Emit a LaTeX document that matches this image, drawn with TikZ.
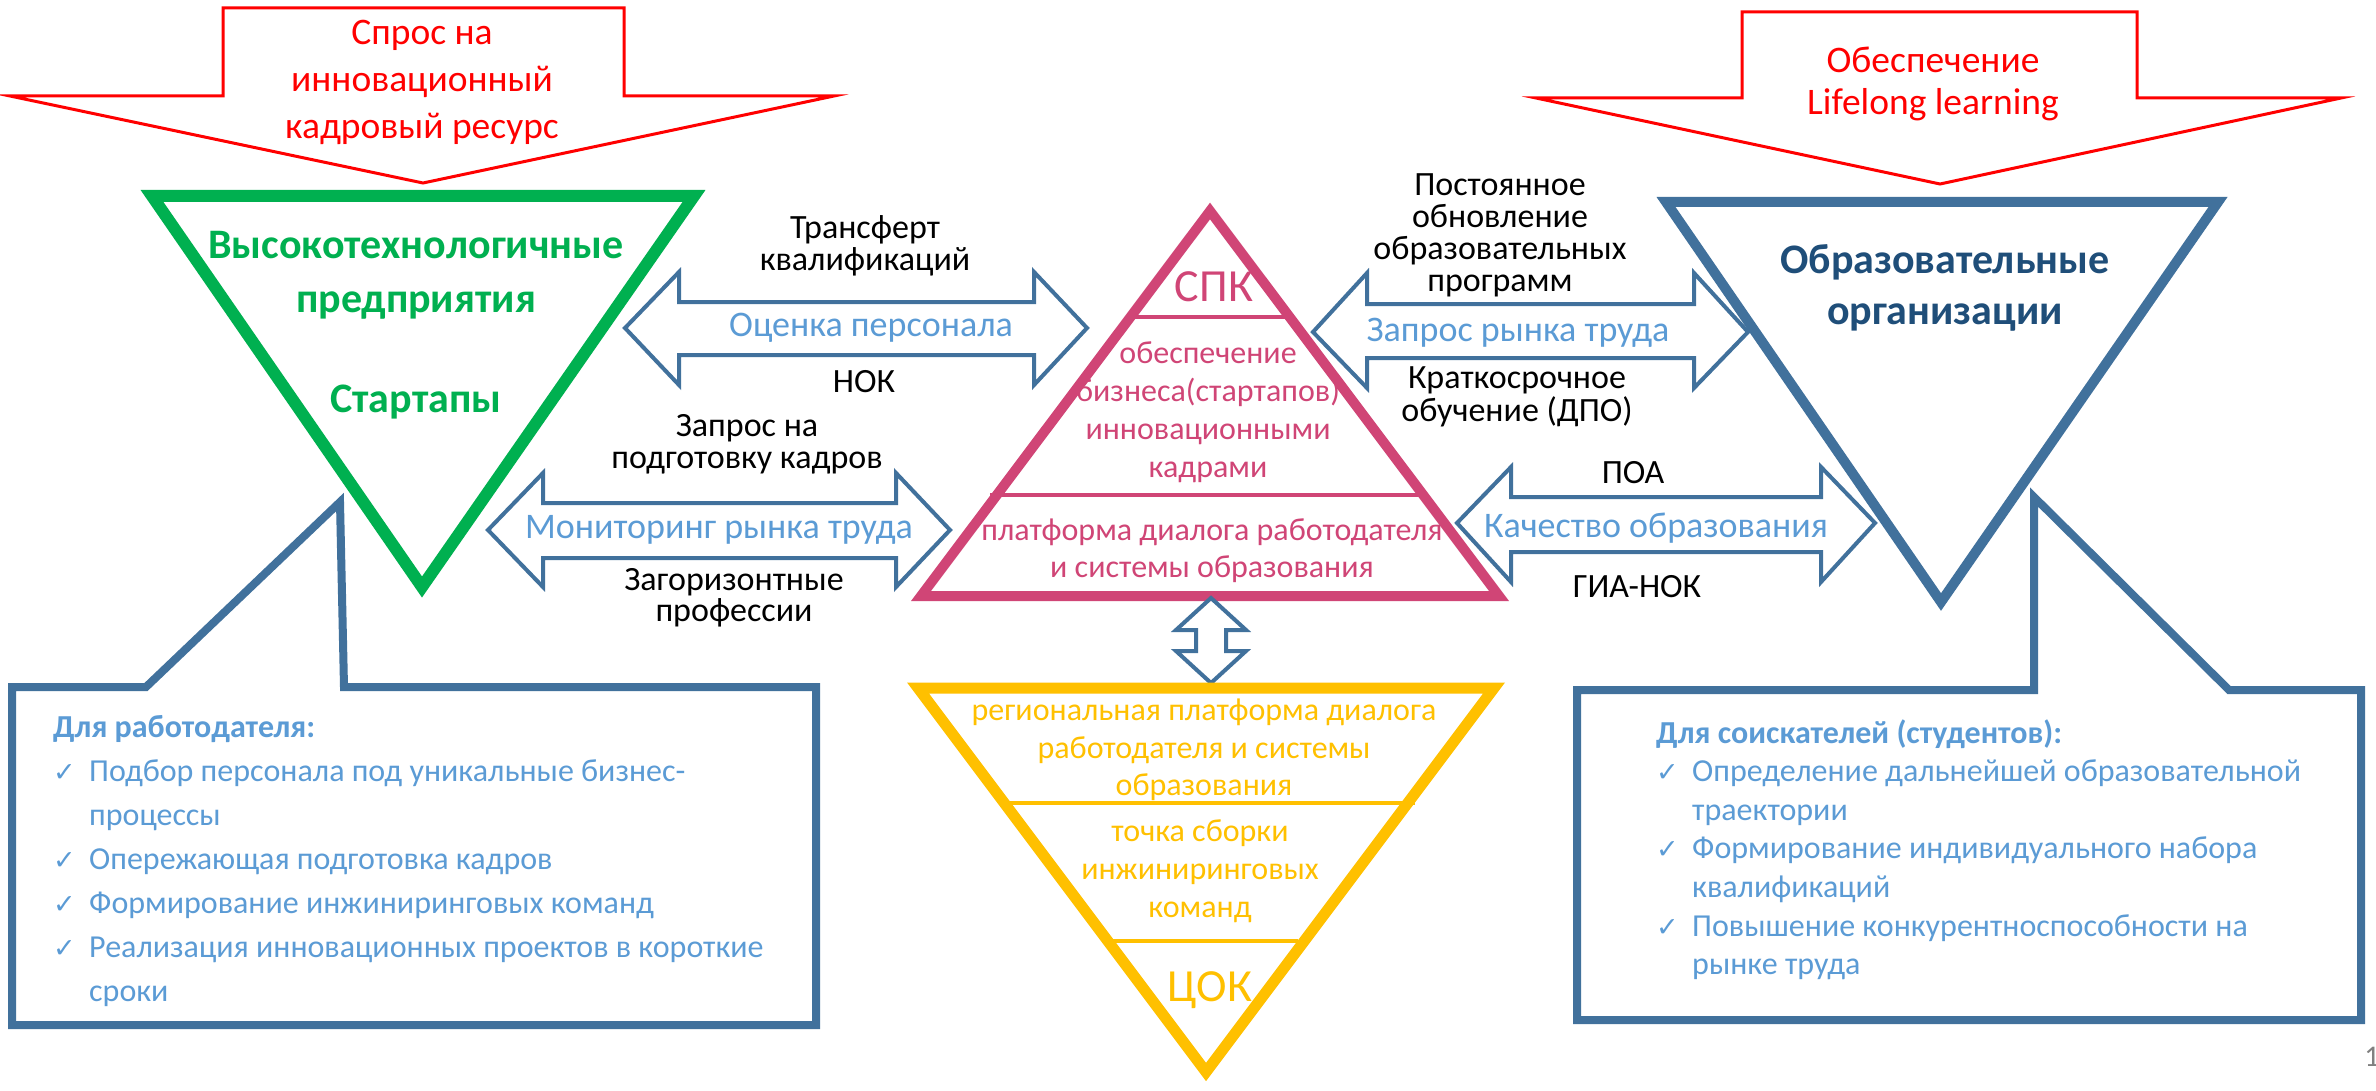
\documentclass[tikz,border=0pt]{standalone}
\usepackage{fontspec}
\setmainfont{Carlito}
\newfontfamily\symfont{DejaVu Sans}
\usepackage{xcolor}
\usepackage{tikz}
\usetikzlibrary{positioning}

\definecolor{bizgreen}{RGB}{0,176,80}
\definecolor{spkpink}{RGB}{208,69,118}
\definecolor{cokyellow}{RGB}{255,192,0}
\definecolor{edublue}{RGB}{65,113,156}
\definecolor{edudark}{RGB}{31,78,121}
\definecolor{lightblue}{RGB}{91,155,213}

\newcommand{\chk}{\makebox[36pt][l]{\symfont\fontsize{27}{27}\selectfont ✓}}

\tikzset{
  redtext/.style={text=red, align=center, font=\fontsize{37.5}{47}\selectfont},
  blacktext/.style={align=center, font=\fontsize{34}{32}\selectfont},
  arrowtext/.style={text=lightblue, font=\fontsize{36}{40}\selectfont},
  spktext/.style={text=spkpink, align=center, font=\fontsize{32}{38}\selectfont},
  coktext/.style={text=cokyellow, align=center, font=\fontsize{32}{38}\selectfont},
  abbrtext/.style={font=\fontsize{46}{50}\selectfont},
  headtext/.style={align=center, font=\bfseries\fontsize{42}{54}\selectfont},
  listtext/.style={anchor=base west, inner sep=0pt, text=lightblue},
  downarrow/.style={draw=red, line width=3pt},
  blockarrow/.style={draw=edublue, line width=4pt},
  callout/.style={draw=edublue, line width=8pt}
}

\begin{document}
\begin{tikzpicture}[x=1pt, y=-1pt]
\path[use as bounding box, fill=white] (0,0) rectangle (2376,1091);

% Demand arrows from above
\draw[downarrow] (223,8) -- (624,8) -- (624,96) -- (834,96) -- (423,183) -- (10,96) -- (223,96) -- cycle;
\draw[downarrow] (1742,12) -- (2137,12) -- (2137,98) -- (2341,98) -- (1940,184) -- (1536,98) -- (1742,98) -- cycle;
\node[redtext] (demand) at (422,82) {Спрос на\\инновационный\\кадровый ресурс};
\node[redtext, font=\fontsize{37.5}{42}\selectfont] (lifelong) at (1933,84) {Обеспечение\\Lifelong learning};

% Enterprises
\draw[bizgreen, line width=12pt] (152,196) -- (694,196) -- (422,587) -- cycle;
\node[headtext, text=bizgreen] (firms) at (416,275) {Высокотехнологичные\\предприятия};
\node[headtext, text=bizgreen] (startups) at (416,402) {Стартапы};

% Educational organisations
\draw[edublue, line width=10pt] (1666,202) -- (2218,202) -- (1941,602) -- cycle;
\node[headtext, text=edudark, font=\bfseries\fontsize{42}{51}\selectfont] (schools) at (1945,288) {Образовательные\\организации};

% SPK pyramid
\draw[spkpink, line width=10pt] (1210,211) -- (1499,596) -- (921,596) -- cycle;
\draw[spkpink, line width=4pt] (1131,317) -- (1288,317);
\draw[spkpink, line width=4pt] (990,495) -- (1420,495);
\node[abbrtext, text=spkpink] (spk) at (1214,287) {СПК};
\node[spktext] (spkstaff) at (1208,412) {обеспечение\\бизнеса(стартапов)\\инновационными\\кадрами};
\node[spktext, font=\fontsize{32}{37}\selectfont] (spkplatform) at (1212,551) {платформа диалога работодателя\\и системы образования};

% link SPK - COK
\draw[blockarrow] (1211,598) -- (1246,630) -- (1226,630) -- (1226,651) -- (1246,651) -- (1211,683)
  -- (1176,651) -- (1196,651) -- (1196,630) -- (1176,630) -- cycle;

% COK pyramid
\draw[cokyellow, line width=11pt] (918,688) -- (1494,688) -- (1206,1072) -- cycle;
\draw[cokyellow, line width=4pt] (1010,803) -- (1415,803);
\draw[cokyellow, line width=4pt] (1110,941) -- (1298,941);
\node[coktext, font=\fontsize{32}{37.5}\selectfont] (cokplatform) at (1204,750) {региональная платформа диалога\\работодателя и системы\\образования};
\node[coktext] (cokteams) at (1200,871) {точка сборки\\инжиниринговых\\команд};
\node[abbrtext, text=cokyellow] (cok) at (1210,990) {ЦОК};

% Two-way arrows, left side
\draw[blockarrow] (625,328) -- (679,272) -- (679,302) -- (1034,302) -- (1034,272) -- (1087,328)
  -- (1034,385) -- (1034,355) -- (679,355) -- (679,385) -- cycle;
\node[arrowtext] (staffrate) at (871,328) {Оценка персонала};
\node[blacktext] (transfer) at (865,246) {Трансферт\\квалификаций};
\node[blacktext] (nok) at (864,382) {НОК};

\draw[blockarrow] (488,530) -- (543,473) -- (543,503) -- (896,503) -- (896,473) -- (950,530)
  -- (896,587) -- (896,558) -- (543,558) -- (543,587) -- cycle;
\node[arrowtext] (monitor) at (719,530) {Мониторинг рынка труда};
\node[blacktext] (training) at (747,444) {Запрос на\\подготовку кадров};
\node[blacktext, font=\fontsize{34}{31}\selectfont] (future) at (734,598) {Загоризонтные\\профессии};

% Two-way arrows, right side
\draw[blockarrow] (1313,332) -- (1367,273) -- (1367,304) -- (1694,304) -- (1694,273) -- (1748,332)
  -- (1694,388) -- (1694,358) -- (1367,358) -- (1367,388) -- cycle;
\node[arrowtext] (labour) at (1518,333) {Запрос рынка труда};
\node[blacktext] (update) at (1500,235) {Постоянное\\обновление\\образовательных\\программ};
\node[blacktext, font=\fontsize{34}{33}\selectfont] (short) at (1517,397) {Краткосрочное\\обучение (ДПО)};

\draw[blockarrow] (1457,523) -- (1511,467) -- (1511,497) -- (1821,497) -- (1821,467) -- (1875,523)
  -- (1821,582) -- (1821,552) -- (1511,552) -- (1511,582) -- cycle;
\node[arrowtext] (quality) at (1656,528) {Качество образования};
\node[blacktext] (poa) at (1633,473) {ПОА};
\node[blacktext] (gia) at (1637,587) {ГИА-НОК};

% Callouts
\draw[callout] (12,687) -- (146,687) -- (340,502) -- (344,687) -- (816,687) -- (816,1025) -- (12,1025) -- cycle;
\node[listtext, font=\fontsize{32}{44}\selectfont] (employer) at (53,737) {%
  \begin{tabular}[t]{@{}l@{}l@{}}
  \multicolumn{2}{@{}l@{}}{\textbf{Для работодателя:}}\\
  \chk & Подбор персонала под уникальные бизнес-\\
       & процессы\\
  \chk & Опережающая подготовка кадров\\
  \chk & Формирование инжиниринговых команд\\
  \chk & Реализация инновационных проектов в короткие\\
       & сроки
  \end{tabular}};

\draw[callout] (1577,690) -- (2034,690) -- (2034,497) -- (2229,690) -- (2361,690) -- (2361,1020) -- (1577,1020) -- cycle;
\node[listtext, font=\fontsize{32}{38.6}\selectfont] (applicant) at (1656,743) {%
  \begin{tabular}[t]{@{}l@{}l@{}}
  \multicolumn{2}{@{}l@{}}{\textbf{Для соискателей (студентов):}}\\
  \chk & Определение дальнейшей образовательной\\
       & траектории\\
  \chk & Формирование индивидуального набора\\
       & квалификаций\\
  \chk & Повышение конкурентноспособности на\\
       & рынке труда
  \end{tabular}};

% Slide number
\node[text=gray, font=\fontsize{30}{30}\selectfont] (pagenum) at (2372,1057) {1};

\end{tikzpicture}
\end{document}
